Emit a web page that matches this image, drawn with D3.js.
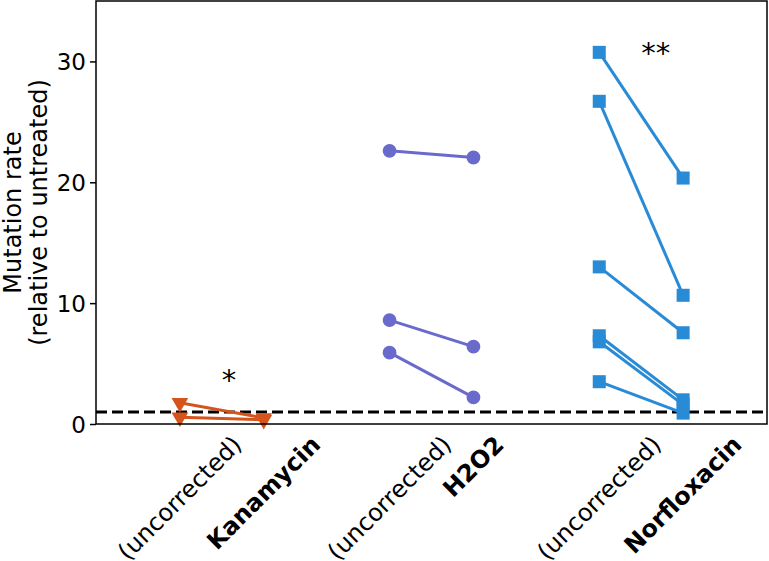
<!DOCTYPE html>
<meta charset="utf-8">
<style>
body { margin: 0; background: #fff; }
svg text { font-family: "DejaVu Sans", sans-serif; fill: #000; }
</style>
<body>
<svg width="769" height="561"></svg>
<script src="https://cdn.jsdelivr.net/npm/d3@7"></script>
<script>

// x positions of the categories (uncorrected / corrected per drug)
var tickPos = [0, 1, 2.5, 3.5, 5, 6];
var tickLabels = ["(uncorrected)", "Kanamycin", "(uncorrected)", "H2O2", "(uncorrected)", "Norfloxacin"];
var tickBold = [false, true, false, true, false, true];

var yTicks = [0, 10, 20, 30];

// paired values: [uncorrected, corrected]
var kanamycin = [[1.75, 0.5], [0.55, 0.35]];
var h2o2 = [[22.6, 22.05], [8.6, 6.4], [5.9, 2.2]];
var norfloxacin = [[30.75, 20.35], [26.7, 10.65], [13.0, 7.55], [7.3, 2.0], [6.8, 1.6], [3.5, 0.9]];

var groups = [
  {name: "Kanamycin", x0: 0, x1: 1, pairs: kanamycin, color: "rgb(213,84,28)", marker: "tri"},
  {name: "H2O2", x0: 2.5, x1: 3.5, pairs: h2o2, color: "rgb(106,106,204)", marker: "circle"},
  {name: "Norfloxacin", x0: 5, x1: 6, pairs: norfloxacin, color: "rgb(41,139,214)", marker: "square"}
];

// significance marks
var stars = [
  {x: 0.5, y: 2.85, text: "*"},
  {x: 5.5, y: 29.9, text: "**"}
];
var baseline = 1;

var svg = d3.select("svg");
var pl = 96, pr = 767, pt = 1, pb = 424;

var x = d3.scaleLinear().domain([-1, 7]).range([pl, pr]);
var y = d3.scaleLinear().domain([0, 35]).range([pb, pt]);

// dashed reference line
svg.append("line")
  .attr("x1", pl).attr("x2", pr)
  .attr("y1", y(baseline)).attr("y2", y(baseline))
  .attr("stroke", "#000").attr("stroke-width", 3)
  .attr("stroke-dasharray", "11,5");

var plot = svg.append("g");
groups.forEach(function(g) {
  var gg = plot.append("g");
  gg.selectAll("line.pair").data(g.pairs).enter().append("line")
    .attr("x1", x(g.x0)).attr("x2", x(g.x1))
    .attr("y1", function(d) { return y(d[0]); })
    .attr("y2", function(d) { return y(d[1]); })
    .attr("stroke", g.color).attr("stroke-width", 3);

  var pts = [];
  g.pairs.forEach(function(d) {
    pts.push([g.x0, d[0]]);
    pts.push([g.x1, d[1]]);
  });
  var sym = g.marker == "circle" ? d3.symbolCircle : g.marker == "square" ? d3.symbolSquare : d3.symbolTriangle;
  var size = g.marker == "circle" ? 150 : g.marker == "square" ? 170 : 120;
  gg.selectAll("path").data(pts).enter().append("path")
    .attr("d", d3.symbol().type(sym).size(size))
    .attr("transform", function(d) {
      return "translate(" + x(d[0]) + "," + y(d[1]) + ")" + (g.marker == "tri" ? " rotate(180)" : "");
    })
    .attr("fill", g.color);
});

svg.selectAll("text.star").data(stars).enter().append("text")
  .attr("class", "star")
  .attr("x", function(d) { return x(d.x); })
  .attr("y", function(d) { return y(d.y); })
  .style("font-size", "29px")
  .text(function(d) { return d.text; });

// frame
svg.append("rect")
  .attr("x", pl).attr("y", pt)
  .attr("width", pr - pl).attr("height", pb - pt)
  .attr("fill", "none").attr("stroke", "#000").attr("stroke-width", 1.5);

// y axis
var yAxis = svg.append("g")
  .attr("transform", "translate(" + pl + ",0)")
  .call(d3.axisLeft(y).tickValues(yTicks).tickSize(6).tickPadding(4));
yAxis.select(".domain").remove();
yAxis.selectAll("line").attr("stroke", "#000").attr("stroke-width", 1.5);
yAxis.selectAll("text").style("font-size", "23px").attr("font-family", "DejaVu Sans").attr("dy", "0.36em");

// x tick labels, rotated 45 degrees, centered over the tick
var xl = svg.append("g");
tickPos.forEach(function(p, i) {
  var t = xl.append("text")
    .style("font-size", "24px")
    .style("font-weight", tickBold[i] ? "bold" : "normal")
    .attr("text-anchor", "middle")
    .attr("dominant-baseline", "central")
    .text(tickLabels[i]);
  var L = t.node().getComputedTextLength();
  var h = 24;
  var cy = 432 + (L + h) / (2 * Math.SQRT2);
  t.attr("transform", "translate(" + x(p) + "," + cy + ") rotate(-45)");
});

// y axis label
var ylab = svg.append("g").attr("transform", "translate(0," + (pt + pb) / 2 + ") rotate(-90)");
ylab.append("text").attr("x", 0).attr("y", 13).attr("text-anchor", "middle")
  .attr("dominant-baseline", "central").style("font-size", "24px").text("Mutation rate");
ylab.append("text").attr("x", 0).attr("y", 39).attr("text-anchor", "middle")
  .attr("dominant-baseline", "central").style("font-size", "24px").text("(relative to untreated)");

</script>
